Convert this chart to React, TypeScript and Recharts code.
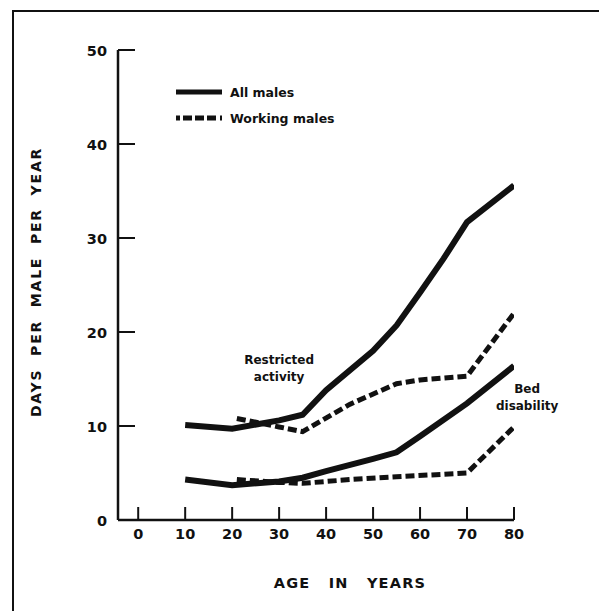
import React from "react";
import {
    LineChart,
    Line,
    XAxis,
    YAxis,
    ReferenceDot,
} from "recharts";

// values
const restrictedAllAges = [10, 20, 30, 35, 40, 50, 55, 60, 65, 70, 80];
const restrictedAllDays = [10.1, 9.7, 10.6, 11.2, 13.8, 18.0, 20.7, 24.2, 27.8, 31.7, 35.6];
const restrictedWorkingAges = [21, 30, 35, 45, 55, 60, 70, 80];
const restrictedWorkingDays = [10.8, 9.9, 9.4, 12.3, 14.5, 14.9, 15.3, 22.0];
const bedAllAges = [10, 20, 30, 35, 40, 50, 55, 60, 70, 80];
const bedAllDays = [4.3, 3.7, 4.1, 4.5, 5.2, 6.5, 7.2, 8.9, 12.4, 16.4];
const bedWorkingAges = [21, 30, 35, 45, 55, 70, 80];
const bedWorkingDays = [4.3, 4.0, 3.9, 4.3, 4.6, 5.0, 9.9];

const ageTicks = [0, 10, 20, 30, 40, 50, 60, 70, 80];
const dayTicks = [0, 10, 20, 30, 40, 50];

const legendLabels = ["All males", "Working males"];

const toPoints = (ages: number[], days: number[]) =>
    ages.map((age, i) => ({ age, days: days[i] }));

const INK = "#111";
const FONT = "'DejaVu Sans', sans-serif";
const DASH = "9 4";

const AgeTick = (props: any) => {
    const { x, y, payload } = props;
    return (
        <g>
            <line x1={x} y1={y} x2={x} y2={y - 13} stroke={INK} strokeWidth={2} />
            <text x={x} y={y + 19} textAnchor="middle" fill={INK} fontFamily={FONT} fontWeight="bold" fontSize={14.5}>
                {payload.value}
            </text>
        </g>
    );
};

const DayTick = (props: any) => {
    const { x, y, payload } = props;
    return (
        <g>
            {payload.value !== 0 && (
                <line x1={x} y1={y} x2={x + 17} y2={y} stroke={INK} strokeWidth={2} />
            )}
            <text x={x - 11} y={y + 6} textAnchor="end" fill={INK} fontFamily={FONT} fontWeight="bold" fontSize={14.5}>
                {payload.value}
            </text>
        </g>
    );
};

const AgeTitle = ({ viewBox }: any) => {
    if (!viewBox) return null;
    const cx = viewBox.x + viewBox.width / 2 + 34;
    return (
        <text x={cx} y={viewBox.y + 68} textAnchor="middle" fill={INK} fontFamily={FONT} fontWeight="bold" fontSize={14.5} style={{ letterSpacing: 1.2, wordSpacing: 12 }}>
            AGE IN YEARS
        </text>
    );
};

const DaysTitle = ({ viewBox }: any) => {
    if (!viewBox) return null;
    const bx = 41;
    const cy = viewBox.y + viewBox.height / 2 - 3;
    return (
        <text x={bx} y={cy} transform={`rotate(-90, ${bx}, ${cy})`} textAnchor="middle" fill={INK} fontFamily={FONT} fontWeight="bold" fontSize={14} style={{ letterSpacing: 1.8, wordSpacing: 6 }}>
            DAYS PER MALE PER YEAR
        </text>
    );
};

const Annotation = ({ viewBox, lines }: any) => {
    if (!viewBox) return null;
    const cx = viewBox.x + viewBox.width / 2;
    const cy = viewBox.y + viewBox.height / 2;
    return (
        <text x={cx} y={cy} textAnchor="middle" fill={INK} fontFamily={FONT} fontWeight="bold" fontSize={12}>
            {lines.map((t: string, i: number) => (
                <tspan key={t} x={cx} dy={i === 0 ? 0 : 17}>
                    {t}
                </tspan>
            ))}
        </text>
    );
};

const LegendBox = () => (
    <div style={{ position: "absolute", left: 174, top: 79, fontFamily: FONT, fontWeight: "bold", fontSize: 12.5, color: INK }}>
        {legendLabels.map((label, i) => (
            <div key={label} style={{ display: "flex", alignItems: "center", height: 26 }}>
                <svg width={56} height={10}>
                    <line
                        x1={2}
                        y1={5}
                        x2={48}
                        y2={5}
                        stroke={INK}
                        strokeWidth={5}
                        strokeDasharray={i === 0 ? undefined : "4 3 9 3 9 3 9"}
                    />
                </svg>
                <span>{label}</span>
            </div>
        ))}
    </div>
);

export default function App() {
    return (
        <div style={{ position: "absolute", left: 0, top: 0, width: 599, height: 611, background: "#fff" }}>
            <div style={{ position: "absolute", left: 12, top: 10, width: 587, height: 601, borderTop: `2px solid ${INK}`, borderLeft: `2px solid ${INK}` }} />
            <LineChart
                width={599}
                height={611}
                margin={{ top: 50, right: 85, bottom: 51, left: 58 }}
                style={{ position: "absolute", left: 0, top: 0 }}
            >
                <XAxis
                    type="number"
                    dataKey="age"
                    domain={[-4.3, 80]}
                    allowDataOverflow
                    ticks={ageTicks}
                    interval={0}
                    height={40}
                    tickSize={0}
                    tickMargin={0}
                    tick={<AgeTick />}
                    axisLine={{ stroke: INK, strokeWidth: 2.5 }}
                    label={<AgeTitle />}
                />
                <YAxis
                    type="number"
                    domain={[0, 50]}
                    ticks={dayTicks}
                    interval={0}
                    width={60}
                    tickSize={0}
                    tickMargin={0}
                    tick={<DayTick />}
                    axisLine={{ stroke: INK, strokeWidth: 2.5 }}
                    label={<DaysTitle />}
                />
                <Line
                    data={toPoints(restrictedAllAges, restrictedAllDays)}
                    dataKey="days"
                    type="linear"
                    stroke={INK}
                    strokeWidth={6}
                    dot={false}
                    isAnimationActive={false}
                />
                <Line
                    data={toPoints(restrictedWorkingAges, restrictedWorkingDays)}
                    dataKey="days"
                    type="linear"
                    stroke={INK}
                    strokeWidth={5}
                    strokeDasharray={DASH}
                    dot={false}
                    isAnimationActive={false}
                />
                <Line
                    data={toPoints(bedAllAges, bedAllDays)}
                    dataKey="days"
                    type="linear"
                    stroke={INK}
                    strokeWidth={6}
                    dot={false}
                    isAnimationActive={false}
                />
                <Line
                    data={toPoints(bedWorkingAges, bedWorkingDays)}
                    dataKey="days"
                    type="linear"
                    stroke={INK}
                    strokeWidth={5}
                    strokeDasharray={DASH}
                    dot={false}
                    isAnimationActive={false}
                />
                <ReferenceDot
                    x={30}
                    y={16.6}
                    r={1}
                    fill="none"
                    stroke="none"
                    ifOverflow="visible"
                    label={<Annotation lines={["Restricted", "activity"]} />}
                />
                <ReferenceDot
                    x={82.8}
                    y={13.5}
                    r={1}
                    fill="none"
                    stroke="none"
                    ifOverflow="visible"
                    label={<Annotation lines={["Bed", "disability"]} />}
                />
            </LineChart>
            <LegendBox />
        </div>
    );
}
